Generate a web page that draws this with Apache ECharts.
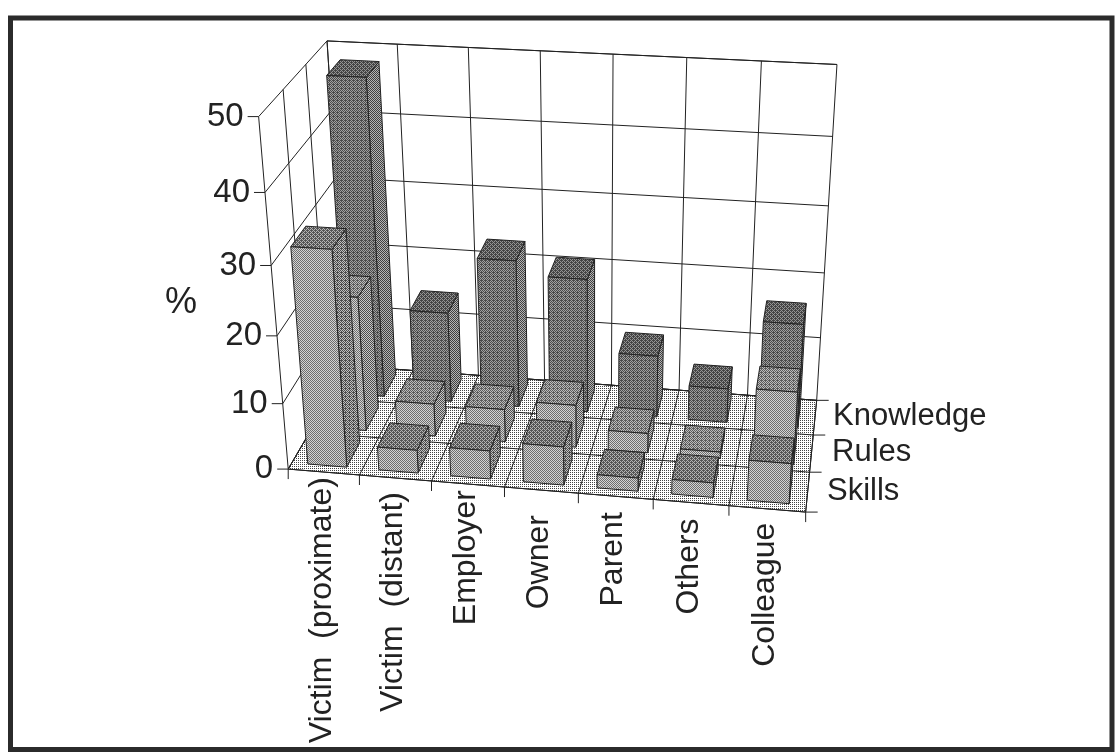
<!DOCTYPE html>
<html>
<head>
<meta charset="utf-8">
<title>Bar chart</title>
<script src="https://cdn.jsdelivr.net/npm/echarts@6/dist/echarts.min.js"></script>
<style>
html, body { margin: 0; padding: 0; background: #fff; }
#chart { width: 1117px; height: 755px; }
</style>
</head>
<body>
<div id="chart"></div>
<script>
// data
var categories = ['Victim  (proximate)', 'Victim  (distant)', 'Employer', 'Owner', 'Parent', 'Others', 'Colleague'];
var rowNames = ['Skills', 'Rules', 'Knowledge'];
var skills = [32, 3.5, 4.3, 5.8, 2, 2.2, 6];
var rules = [20.5, 5, 5, 6.5, 3, 1, 11];
var knowledge = [48, 14, 22.7, 20.6, 9.6, 5.3, 16];
var valueTicks = [0, 10, 20, 30, 40, 50];

// how far the category labels sit below the axis, px
var labelGap = [8, 17, 9, 28, 19, 19, 17];
var rowLabelPos = [[827, 491], [832, 452], [833, 416]];

// camera fit: [u, v, w, screen x, screen y], u along categories, v depth, w height
var anchors = [
	[0, 0, 0, 287, 470], [1, 0, 0, 806, 512], [0, 1, 0, 350, 365], [1, 1, 0, 817, 400],
	[0, 0, 1, 260, 116], [0, 1, 1, 327, 40], [1, 1, 1, 837, 65], [1, 1, 0.8, 833, 137],
	[0, 0, 0.8, 266, 192], [0, 0, 0.6, 271, 266], [0, 1, 0.8, 330, 113],
	[1 / 7, 1, 1, 397, 43], [2 / 7, 1, 1, 468, 47], [6 / 7, 1, 1, 761, 61],
	[1, 1 / 3, 0, 810, 472], [1, 2 / 3, 0, 813, 435], [4 / 7, 0, 0, 577, 493]
];

// least squares for the 3x4 projection matrix
function solve_camera(pts) {
	var n = 11, ata = [], i, j, k;
	for (i = 0; i < n; i++) {
		ata.push([]);
		for (j = 0; j <= n; j++) ata[i].push(0);
	}
	function add(row, b) {
		for (var a = 0; a < n; a++) {
			for (var c = 0; c < n; c++) ata[a][c] += row[a] * row[c];
			ata[a][n] += row[a] * b;
		}
	}
	pts.forEach(function (p) {
		var x = p[3] / 1000, y = p[4] / 1000;
		add([p[0], p[1], p[2], 1, 0, 0, 0, 0, -x * p[0], -x * p[1], -x * p[2]], x);
		add([0, 0, 0, 0, p[0], p[1], p[2], 1, -y * p[0], -y * p[1], -y * p[2]], y);
	});
	for (i = 0; i < n; i++) {
		var best = i;
		for (k = i + 1; k < n; k++) if (Math.abs(ata[k][i]) > Math.abs(ata[best][i])) best = k;
		var tmp = ata[i]; ata[i] = ata[best]; ata[best] = tmp;
		for (k = 0; k < n; k++) {
			if (k == i) continue;
			var f = ata[k][i] / ata[i][i];
			for (j = i; j <= n; j++) ata[k][j] -= f * ata[i][j];
		}
	}
	var m = [];
	for (i = 0; i < n; i++) m.push(ata[i][n] / ata[i][i]);
	return m;
}
var cam = solve_camera(anchors);

function project(u, v, w) {
	var d = cam[8] * u + cam[9] * v + cam[10] * w + 1;
	return [
		1000 * (cam[0] * u + cam[1] * v + cam[2] * w + cam[3]) / d,
		1000 * (cam[4] * u + cam[5] * v + cam[6] * w + cam[7]) / d
	];
}

// halftone fills, like the scanned print
var bayer = [0, 8, 2, 10, 12, 4, 14, 6, 3, 11, 1, 9, 15, 7, 13, 5];
function halftone(level, dark, light) {
	var c = document.createElement('canvas');
	c.width = c.height = 4;
	var g = c.getContext('2d');
	g.fillStyle = light;
	g.fillRect(0, 0, 4, 4);
	g.fillStyle = dark;
	for (var i = 0; i < 16; i++) {
		if (bayer[i] < level * 16) g.fillRect(i % 4, i >> 2, 1, 1);
	}
	return { image: c, repeat: 'repeat' };
}

var floorFill = halftone(0.19, '#444', '#fff');
var rowFills = [
	{ front: halftone(0.5, '#6e6e6e', '#d4d4d4'), top: halftone(0.62, '#555', '#b4b4b4'), side: halftone(0.56, '#4c4c4c', '#c0c0c0') },
	{ front: halftone(0.44, '#6e6e6e', '#d4d4d4'), top: halftone(0.56, '#5c5c5c', '#bcbcbc'), side: halftone(0.5, '#4c4c4c', '#c8c8c8') },
	{ front: halftone(0.56, '#4a4a4a', '#a0a0a0'), top: halftone(0.62, '#444', '#949494'), side: halftone(0.5, '#404040', '#b4b4b4') }
];

function poly(pts, fill) {
	return {
		type: 'polygon',
		shape: { points: pts },
		style: { fill: fill, stroke: '#222', lineWidth: 1 }
	};
}

function seg(a, b) {
	return {
		type: 'line',
		shape: { x1: a[0], y1: a[1], x2: b[0], y2: b[1] },
		style: { stroke: '#222', lineWidth: 1, fill: null }
	};
}

function label(text, x, y, size, align, rot) {
	return {
		type: 'text', x: x, y: y, rotation: rot || 0,
		style: { text: text, x: 0, y: 0, font: size + 'px "Liberation Sans", Arial, sans-serif', fill: '#222', align: align, verticalAlign: 'middle' }
	};
}

function facing(pts) {
	var s = 0;
	for (var i = 0; i < pts.length; i++) {
		var a = pts[i], b = pts[(i + 1) % pts.length];
		s += a[0] * b[1] - b[0] * a[1];
	}
	return s;
}

// walls, floor, ticks and labels
function render_scene(params, api) {
	var out = [];
	var i, j;
	var nc = categories.length, nr = rowNames.length;
	var cs = params.coordSys;

	out.push({
		type: 'rect',
		shape: { x: 10.5, y: 18, width: 1101.5, height: 731.5 },
		style: { fill: null, stroke: '#2b2b2b', lineWidth: 5 }
	});

	out.push(poly([project(0, 0, 0), project(1, 0, 0), project(1, 1, 0), project(0, 1, 0)], floorFill));

	for (i = 0; i <= nc; i++) {
		out.push(seg(project(i / nc, 1, 0), project(i / nc, 1, 1)));
		var p = project(i / nc, 0, 0);
		out.push(seg(project(i / nc, 1, 0), p));
		out.push(seg(p, [p[0], p[1] + 10]));
		if (i < nc) {
			var mid = project((i + 0.5) / nc, 0, 0);
			out.push(label(categories[i], mid[0] - 2, project(i / nc, 0, 0)[1] + labelGap[i], 32, 'right', Math.PI / 2));
		}
	}
	for (j = 0; j <= nr; j++) {
		var q = project(1, j / nr, 0);
		out.push(seg(project(0, j / nr, 0), q));
		out.push(seg(q, [q[0] + 12, q[1]]));
		out.push(seg(project(0, j / nr, 0), project(0, j / nr, 1)));
		if (j < nr) out.push(label(rowNames[j], rowLabelPos[j][0], rowLabelPos[j][1], 31, 'left'));
	}
	valueTicks.forEach(function (t) {
		var y0 = api.coord([0, 0])[1], y1 = api.coord([0, t])[1];
		var w = (y0 - y1) / cs.height;
		var a = project(0, 0, w), b = project(0, 1, w), c = project(1, 1, w);
		out.push(seg(a, b));
		out.push(seg(b, c));
		out.push(seg(a, [a[0] - 11, a[1]]));
		out.push(label(String(t), a[0] - 15, a[1], 33, 'right'));
	});
	out.push(seg(project(0, 1, 1), project(1, 1, 1)));
	out.push(label('%', 165, 303, 36, 'left'));
	return { type: 'group', children: out };
}

// one row of boxes, back row goes first so the front ones cover it
function make_row(row, values) {
	var nr = rowNames.length;
	return {
		type: 'custom',
		name: rowNames[row],
		coordinateSystem: 'cartesian2d',
		data: values.map(function (v, i) { return [i, v]; }),
		renderItem: function (params, api) {
			var cs = params.coordSys;
			var cat = api.value(0), val = api.value(1);
			var c = api.coord([cat, val]);
			var base = api.coord([cat, 0]);
			var band = api.size([1, 0])[0] / cs.width;
			var um = (c[0] - cs.x) / cs.width;
			var w = (base[1] - c[1]) / cs.height;
			var du = band * 0.275;
			var dv = 0.33 / nr;
			var vm = (row + 0.5) / nr;
			var fills = rowFills[row];

			var u0 = um - du, u1 = um + du, v0 = vm - dv, v1 = vm + dv;
			var front = [project(u0, v0, 0), project(u1, v0, 0), project(u1, v0, w), project(u0, v0, w)];
			var side = [project(u1, v0, 0), project(u1, v1, 0), project(u1, v1, w), project(u1, v0, w)];
			var top = [project(u0, v0, w), project(u1, v0, w), project(u1, v1, w), project(u0, v1, w)];

			var kids = [];
			if (facing(side) < 0) kids.push(poly(side, fills.side));
			kids.push(poly(top, fills.top));
			kids.push(poly(front, fills.front));
			return { type: 'group', children: kids };
		}
	};
}

var chart = echarts.init(document.getElementById('chart'));
chart.setOption({
	animation: false,
	backgroundColor: '#fff',
	grid: { left: 0, right: 0, top: 0, bottom: 0 },
	xAxis: { type: 'category', data: categories, show: false },
	yAxis: { type: 'value', min: 0, max: 50, interval: 10, show: false },
	series: [
		{ type: 'custom', coordinateSystem: 'cartesian2d', data: [[0, 0]], renderItem: render_scene, silent: true },
		make_row(2, knowledge),
		make_row(1, rules),
		make_row(0, skills)
	]
});
</script>
</body>
</html>
